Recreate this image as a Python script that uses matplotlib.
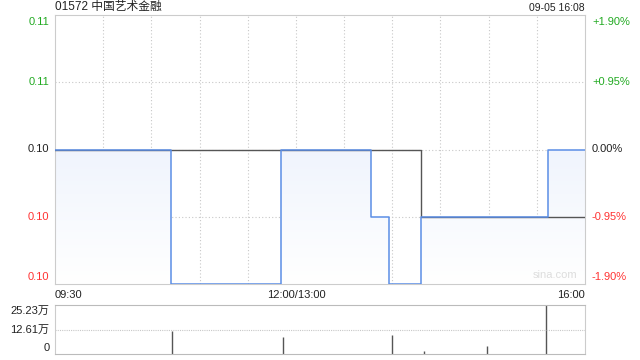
import numpy as np
import matplotlib.pyplot as plt
from matplotlib.colors import LinearSegmentedColormap

plt.rcParams['font.family'] = ['Liberation Sans', 'Noto Sans CJK SC']

# Stock info
title = '01572 中国艺术金融'
stamp = '09-05 16:08'
prev_close = 0.105

# Price (change points, trading minutes since 09:30; 0..330)
price_times = [0, 72, 141, 197, 208, 228, 307, 330]
price_values = [0.105, 0.103, 0.105, 0.104, 0.103, 0.104, 0.105, 0.105]

# Average price
avg_times = [0, 228, 330]
avg_values = [0.105, 0.104, 0.104]

# Volume (万 shares)
vol_times = [73, 142, 210, 230, 269, 306]
vol_values = [11.9, 9.0, 9.9, 1.7, 4.2, 25.23]
vol_max = 25.23

x_labels = ['09:30', '12:00/13:00', '16:00']
x_label_pos = [0, 150, 330]

price_ticks = [0.103, 0.104, 0.105, 0.106, 0.107]

green = '#22aa22'
red = '#ff3333'
blue = '#5b8ee6'
grid_c = '#c8c8c8'
spine_c = '#cccccc'

fig = plt.figure(figsize=(6.4, 3.6), dpi=100)
ax = fig.add_axes([55 / 640, 1 - 284 / 360, 530 / 640, 269 / 360])
axv = fig.add_axes([55 / 640, 1 - 354 / 360, 530 / 640, 49 / 360])

ylo, yhi = prev_close * (1 - 0.019), prev_close * (1 + 0.019)
ax.set_xlim(0, 330)
ax.set_ylim(ylo, yhi)

# gradient fill under price line
fill = ax.fill_between(price_times, price_values, ylo, step='post', color='none')
cmap = LinearSegmentedColormap.from_list('g', ['#ffffff', '#e1eafb'])
grad = np.linspace(0, 1, 256).reshape(-1, 1)
im = ax.imshow(grad, cmap=cmap, aspect='auto', origin='lower',
               extent=[0, 330, ylo, yhi], zorder=1)
im.set_clip_path(fill.get_paths()[0], transform=ax.transData)

ax.plot(avg_times, avg_values, drawstyle='steps-post', color='#555555', lw=1, zorder=3)
ax.plot(price_times, price_values, drawstyle='steps-post', color=blue, lw=1.1, zorder=4)

# grid
for t in range(30, 330, 30):
    ax.axvline(t, color=grid_c, lw=0.8, ls=(0, (1, 2)), zorder=0)
for p in price_ticks[1:-1]:
    ax.axhline(p, color=grid_c, lw=0.8, ls=(0, (1, 2)), zorder=0)

ax.set_xticks([])
ax.set_yticks([])
for s in ax.spines.values():
    s.set_color(spine_c)

# y labels
for i, p in enumerate(price_ticks):
    pct = (p / prev_close - 1) * 100
    if abs(pct) < 0.01:
        c = '#222222'
        pct_s = '0.00%'
    elif pct > 0:
        c = green
        pct_s = '+%.2f%%' % pct
    else:
        c = red
        pct_s = '%.2f%%' % pct
    va = 'center'
    off = 0
    if i == 0:
        va, off = 'bottom', 2
    elif i == len(price_ticks) - 1:
        va, off = 'top', -2
    ax.annotate('%.2f' % p, (0, p), xycoords=('axes fraction', 'data'),
                xytext=(-4, off), textcoords='offset points',
                ha='right', va=va, fontsize=8, color=c)
    ax.annotate(pct_s, (1, p), xycoords=('axes fraction', 'data'),
                xytext=(5, off), textcoords='offset points',
                ha='left', va=va, fontsize=8, color=c)

# x labels
has = ['left', 'center', 'right']
for lbl, pos, h in zip(x_labels, x_label_pos, has):
    ax.annotate(lbl, (pos, 0), xycoords=('data', 'axes fraction'),
                xytext=(0, -4), textcoords='offset points',
                ha=h, va='top', fontsize=8, color='#222222')

ax.annotate(title, (0, 1), xycoords='axes fraction', xytext=(0, 1.5),
            textcoords='offset points', ha='left', va='bottom',
            fontsize=8.5, color='#222222')
ax.annotate(stamp, (1, 1), xycoords='axes fraction', xytext=(0, 1.5),
            textcoords='offset points', ha='right', va='bottom',
            fontsize=7.5, color='#222222')
ax.text(0.985, 0.015, 'sina.com', transform=ax.transAxes, ha='right', va='bottom',
        fontsize=8, color='#dddddd')

# volume panel
axv.set_xlim(0, 330)
axv.set_ylim(0, vol_max)
axv.vlines(vol_times, 0, vol_values, color='#555555', lw=1)
axv.axhline(vol_max / 2, color=grid_c, lw=0.8, ls=(0, (1, 1)))
axv.set_xticks([])
axv.set_yticks([])
for k in ['left', 'right']:
    axv.spines[k].set_color(spine_c)
for k in ['top', 'bottom']:
    axv.spines[k].set_color('#bbbbbb')
    axv.spines[k].set_linestyle((0, (1, 1)))
vol_labels = [(vol_max, '25.23万', 'top', -0.5), (vol_max / 2, '12.61万', 'center', 0), (0, '0', 'bottom', 1)]
for v, s, va, off in vol_labels:
    axv.annotate(s, (0, v), xycoords=('axes fraction', 'data'),
                 xytext=(-4, off), textcoords='offset points',
                 ha='right', va=va, fontsize=8, color='#222222')

fig.savefig('out.png', dpi=100)
